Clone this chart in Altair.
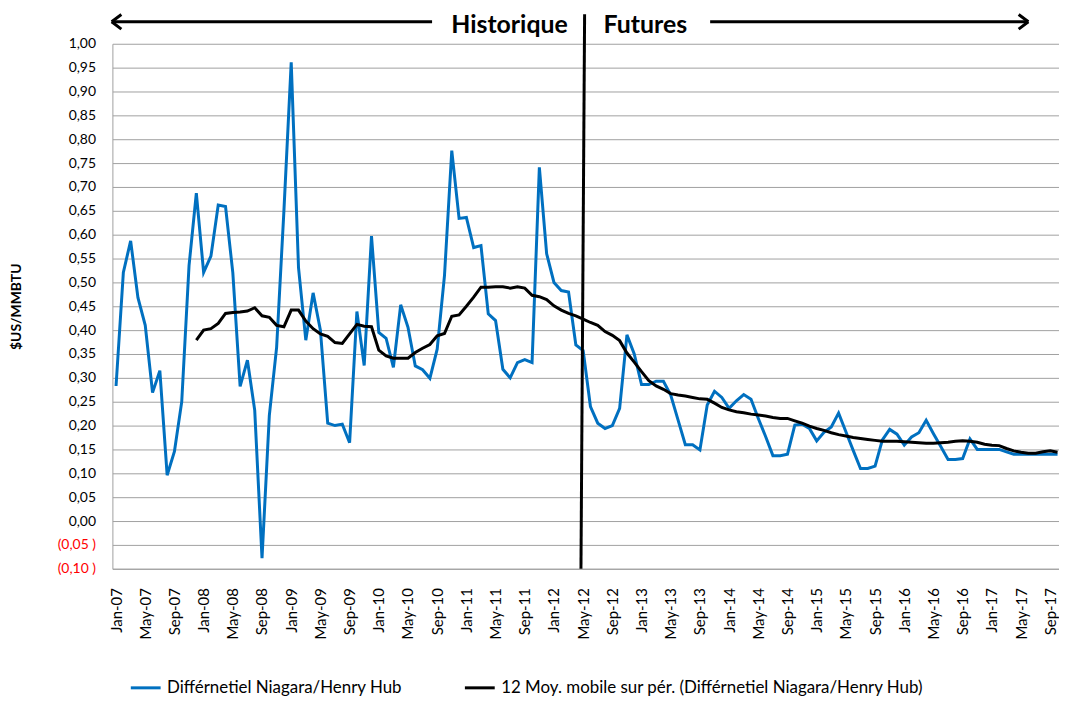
import json
import altair as alt
import pandas as pd

# ---------------- data ----------------
blue_vals = [
    0.283, 0.521, 0.587, 0.468, 0.41, 0.269, 0.315, 0.096, 0.146, 0.25, 0.535, 0.687,
    0.521, 0.555, 0.662, 0.659, 0.52, 0.282, 0.337, 0.232, -0.078, 0.221, 0.364, 0.65,
    0.961, 0.531, 0.379, 0.478, 0.40, 0.205, 0.20, 0.203, 0.164, 0.439, 0.326, 0.597,
    0.395, 0.383, 0.322, 0.453, 0.406, 0.325, 0.317, 0.299, 0.36, 0.514, 0.776, 0.634,
    0.636, 0.573, 0.577, 0.434, 0.42, 0.318, 0.30, 0.332, 0.338, 0.332, 0.741, 0.56,
    0.50, 0.483, 0.48, 0.369, 0.357, 0.24, 0.205, 0.194, 0.20, 0.236, 0.39, 0.35,
    0.286, 0.286, 0.293, 0.293, 0.264, 0.212, 0.16, 0.16, 0.149, 0.243, 0.272, 0.259,
    0.236, 0.252, 0.265, 0.255, 0.215, 0.177, 0.137, 0.137, 0.14, 0.201, 0.203, 0.194,
    0.168, 0.186, 0.197, 0.226, 0.187, 0.148, 0.11, 0.11, 0.115, 0.17, 0.192, 0.182,
    0.159, 0.176, 0.185, 0.211, 0.183, 0.156, 0.129, 0.129, 0.131, 0.172, 0.15, 0.15,
    0.15, 0.15, 0.145, 0.14, 0.14, 0.14, 0.14, 0.14, 0.14, 0.14,
]
black_start = 11
black_vals = [
    0.379,
    0.40, 0.403, 0.414, 0.435, 0.437, 0.438, 0.44, 0.447, 0.43, 0.427, 0.41, 0.407,
    0.442, 0.442, 0.419, 0.403, 0.392, 0.387, 0.374, 0.372, 0.392, 0.412, 0.408, 0.407,
    0.358, 0.346, 0.341, 0.341, 0.341, 0.353, 0.362, 0.37, 0.388, 0.393, 0.429, 0.432,
    0.45, 0.469, 0.49, 0.49, 0.491, 0.491, 0.488, 0.491, 0.488, 0.473, 0.47, 0.464,
    0.451, 0.442, 0.435, 0.43, 0.423, 0.416, 0.41, 0.397, 0.389, 0.378, 0.352, 0.333,
    0.313, 0.294, 0.283, 0.276, 0.267, 0.264, 0.262, 0.259, 0.256, 0.255, 0.247, 0.238,
    0.233, 0.229, 0.227, 0.224, 0.222, 0.22, 0.217, 0.215, 0.215, 0.21, 0.205, 0.199,
    0.194, 0.19, 0.185, 0.181, 0.178, 0.175, 0.173, 0.171, 0.169, 0.167, 0.167, 0.167,
    0.166, 0.165, 0.164, 0.163, 0.163, 0.164, 0.165, 0.167, 0.168, 0.167, 0.165, 0.161,
    0.159, 0.158, 0.152, 0.147, 0.144, 0.142, 0.142, 0.145, 0.147, 0.144,
]
tick_labels = [
    "Jan-07", "May-07", "Sep-07", "Jan-08", "May-08", "Sep-08", "Jan-09", "May-09", "Sep-09",
    "Jan-10", "May-10", "Sep-10", "Jan-11", "May-11", "Sep-11", "Jan-12", "May-12", "Sep-12",
    "Jan-13", "May-13", "Sep-13", "Jan-14", "May-14", "Sep-14", "Jan-15", "May-15", "Sep-15",
    "Jan-16", "May-16", "Sep-16", "Jan-17", "May-17", "Sep-17",
]
tick_positions = [4 * i for i in range(len(tick_labels))]
y_ticks = [round(-0.10 + 0.05 * i, 2) for i in range(23)]
series_names = [
    "Différnetiel Niagara/Henry Hub",
    "12 Moy. mobile sur pér. (Différnetiel Niagara/Henry Hub)",
]

# annotation positions (in month index / value units)
split_month_bottom, split_month_top = 63.7, 64.2
label_hist, label_fut = "Historique", "Futures"

FONT = "Lato"
BLUE = "#0070C0"
GRID = "#a0a0a0"

df_blue = pd.DataFrame({"m": list(range(len(blue_vals))), "v": blue_vals, "series": series_names[0]})
df_black = pd.DataFrame({
    "m": list(range(black_start, black_start + len(black_vals))),
    "v": black_vals,
    "series": series_names[1],
})

x_scale = alt.Scale(domain=[-0.5, 129.2], nice=False, zero=False)
y_scale = alt.Scale(domain=[-0.10, 1.00], nice=False, zero=False)

y_label_expr = (
    "datum.value < -0.001 ? '(' + replace(format(-datum.value, '.2f'), '.', ',') + ' )' "
    ": replace(format(abs(datum.value), '.2f'), '.', ',')"
)
x_label_expr = json.dumps(tick_labels) + "[round(datum.value / 4)]"

x_axis = alt.Axis(
    values=tick_positions, tickCount=500, labelExpr=x_label_expr, labelAngle=-90, labelFontSize=15,
    labelFont=FONT, labelColor="#000000", domainColor=GRID, ticks=False, tickSize=0,
    grid=False, title=None, labelPadding=19, labelOverlap=False,
)
y_axis = alt.Axis(
    values=y_ticks, tickCount=500, labelExpr=y_label_expr,
    labelColor=alt.condition("datum.value < -0.001", alt.value("#FF0000"), alt.value("#000000")),
    labelFontSize=14, labelFont=FONT, labelPadding=17, ticks=False, tickSize=0, labelOverlap=False,
    grid=True, gridColor=GRID, gridWidth=1, domainColor=GRID,
    title="$US/MMBTU", titleFont=FONT, titleFontSize=14, titleFontWeight="bold",
    titleX=-96, titleY=264, titleAngle=-90, titleAlign="center", titleBaseline="middle",
)

color_scale = alt.Scale(domain=series_names, range=[BLUE, "#000000"])
legend = alt.Legend(
    orient="none", legendX=17, legendY=631, direction="horizontal", title=None,
    symbolType="stroke", symbolSize=900, symbolStrokeWidth=3, labelFont=FONT,
    labelFontSize=17, labelColor="#000000", columnPadding=56, labelOffset=5, labelLimit=700,
)

blue_line = alt.Chart(df_blue).mark_line(strokeWidth=3).encode(
    x=alt.X("m:Q", scale=x_scale, axis=x_axis),
    y=alt.Y("v:Q", scale=y_scale, axis=y_axis),
    color=alt.Color("series:N", scale=color_scale, legend=legend),
)
black_line = alt.Chart(df_black).mark_line(strokeWidth=3).encode(
    x=alt.X("m:Q", scale=x_scale, axis=x_axis),
    y=alt.Y("v:Q", scale=y_scale, axis=y_axis),
    color=alt.Color("series:N", scale=color_scale, legend=legend),
)

# annotations
split_df = pd.DataFrame({"m": [split_month_bottom], "m2": [split_month_top], "v": [-0.10], "v2": [1.062]})
split_rule = alt.Chart(split_df).mark_rule(color="#000000", strokeWidth=3).encode(
    x="m:Q", x2="m2:Q", y="v:Q", y2="v2:Q"
)

arrow_df = pd.DataFrame({"m": [-0.6, 81.4], "m2": [43.3, 125.0], "v": [1.046, 1.046]})
arrow_lines = alt.Chart(arrow_df).mark_rule(color="#000000", strokeWidth=3).encode(
    x="m:Q", x2="m2:Q", y="v:Q"
)
head_left = alt.Chart(pd.DataFrame({"m": [-0.6], "v": [1.046]})).mark_point(
    shape="M0,0L1,-0.75M0,0L1,0.75", size=380, filled=False, color="#000000", strokeWidth=3, opacity=1
).encode(x="m:Q", y="v:Q")
head_right = alt.Chart(pd.DataFrame({"m": [125.0], "v": [1.046]})).mark_point(
    shape="M0,0L-1,-0.75M0,0L-1,0.75", size=380, filled=False, color="#000000", strokeWidth=3, opacity=1
).encode(x="m:Q", y="v:Q")

text_df = pd.DataFrame({"m": [61.9, 66.8], "v": [1.039, 1.039], "t": [label_hist, label_fut]})
hist_text = alt.Chart(text_df.iloc[[0]]).mark_text(
    align="right", baseline="middle", font=FONT, fontSize=25, fontWeight="bold", color="#000000"
).encode(x="m:Q", y="v:Q", text="t:N")
fut_text = alt.Chart(text_df.iloc[[1]]).mark_text(
    align="left", baseline="middle", font=FONT, fontSize=25, fontWeight="bold", color="#000000"
).encode(x="m:Q", y="v:Q", text="t:N")

chart = alt.layer(
    blue_line, black_line, split_rule, arrow_lines, head_left, head_right, hist_text, fut_text
).properties(
    width=952, height=528,
    autosize=alt.AutoSizeParams(type="none"),
    padding={"left": 105, "top": 34, "right": 0, "bottom": 128},
).configure(font=FONT).configure_view(stroke="transparent")

chart.save("out.html", embed_options={"renderer": "svg", "actions": False})
